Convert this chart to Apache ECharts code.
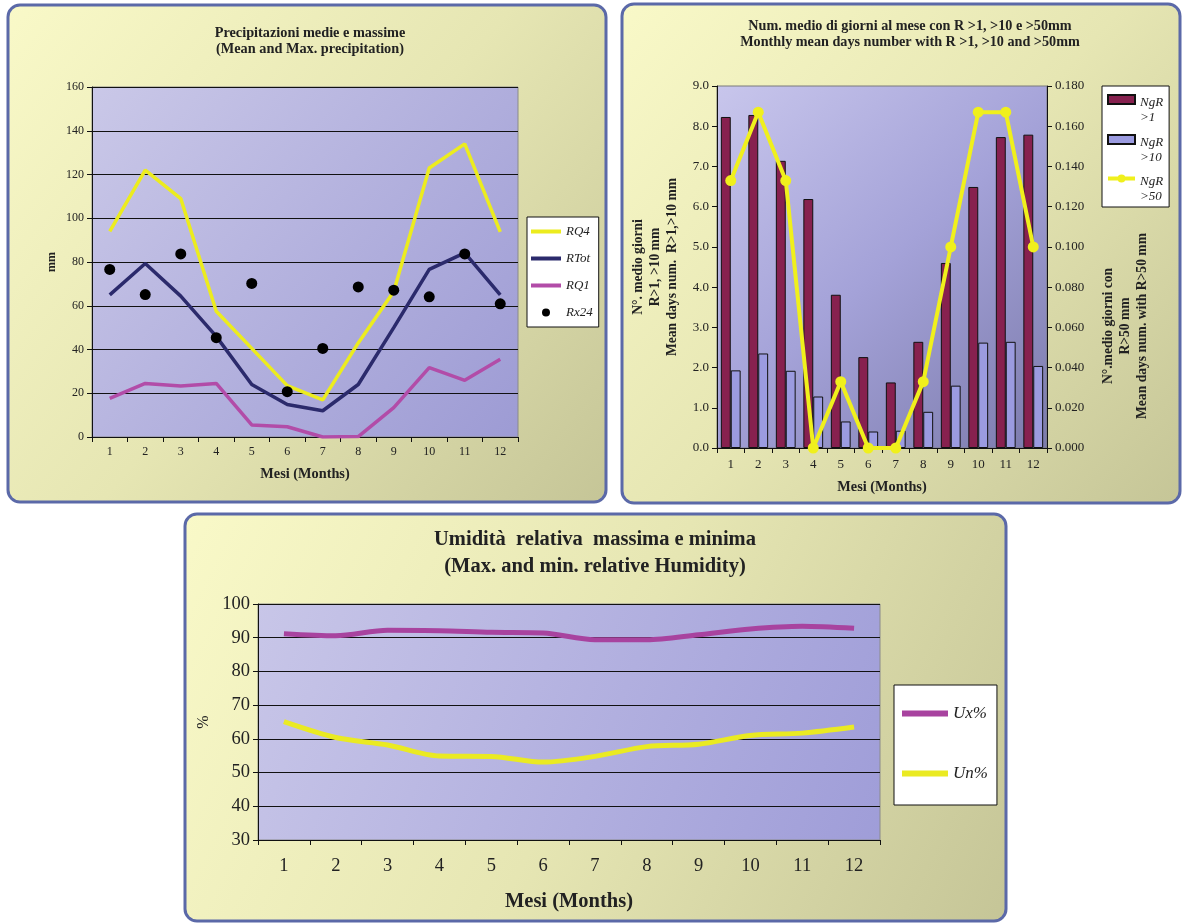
<!DOCTYPE html>
<html>
<head>
<meta charset="utf-8">
<script src="https://cdn.jsdelivr.net/npm/echarts@6/dist/echarts.min.js"></script>
<style>
html,body{margin:0;padding:0;background:#ffffff;}
#chart{width:1182px;height:924px;}
</style>
</head>
<body>
<div id="chart"></div>
<script>
// ---- data ----
const months = ['1','2','3','4','5','6','7','8','9','10','11','12'];
// Panel 1: precipitation (mm)
const rq4  = [94, 122, 109, 57.5, 40.5, 23.5, 17, 43, 66.5, 123, 134, 93.8];
const rtot = [65, 79.3, 64.4, 46, 24, 14.9, 12, 24, 50, 76.6, 84.2, 65];
const rq1  = [17.7, 24.5, 23.3, 24.5, 5.5, 4.7, 0, 0.2, 13.4, 31.7, 25.9, 35.5];
const rx24 = [76.6, 65.1, 83.7, 45.4, 70.2, 20.7, 40.5, 68.6, 67.1, 64.1, 83.7, 60.9];
// Panel 2: mean number of days
const ngr1  = [8.23, 8.28, 7.14, 6.19, 3.81, 2.26, 1.63, 2.64, 4.60, 6.49, 7.73, 7.79];
const ngr10 = [1.93, 2.35, 1.92, 1.28, 0.66, 0.41, 0.43, 0.90, 1.55, 2.62, 2.64, 2.04];
const ngr50 = [0.133, 0.167, 0.133, 0, 0.033, 0, 0, 0.033, 0.100, 0.167, 0.167, 0.100];
// Panel 3: relative humidity (%)
const ux = [91.2, 90.6, 92.2, 92.1, 91.6, 91.4, 89.4, 89.4, 90.9, 92.6, 93.4, 92.8];
const un = [65.1, 60.4, 58.2, 54.9, 54.8, 53.1, 54.8, 57.7, 58.4, 61.0, 61.7, 63.5];

// ---- styles ----
const SERIF = 'Liberation Serif';
const panelFill = {type:'linear',x:0,y:0,x2:1,y2:1,colorStops:[
  {offset:0,color:'#f9f9c8'},{offset:0.5,color:'#e6e6b3'},{offset:1,color:'#c5c597'}]};
function panelRect(x,y,w,h){
  return {type:'rect', z:-10, silent:true,
    shape:{x:x,y:y,width:w,height:h,r:12},
    style:{fill:panelFill, stroke:'#5b69a8', lineWidth:3}};
}
const plotBg1 = {type:'linear',x:0,y:0,x2:1,y2:1,colorStops:[{offset:0,color:'#cac8e8'},{offset:1,color:'#9d9bd4'}]};
const plotBg2 = {type:'linear',x:0,y:0,x2:1,y2:1,colorStops:[{offset:0,color:'#c8c6ec'},{offset:0.5,color:'#a4a2d8'},{offset:1,color:'#7c7bac'}]};
const plotBg3 = {type:'linear',x:0,y:0,x2:1,y2:1,colorStops:[{offset:0,color:'#c8c6e8'},{offset:1,color:'#9f9dd8'}]};

const axisLbl = (size)=>({fontFamily:SERIF,fontSize:size,color:'#222'});
const blackLine = {lineStyle:{color:'#111',width:1}};

// legend icon shapes (bounding points keep the box size)
const ICON_LINE1 = 'path://M0,4 H30 V8 H0 Z M0,0 L0.01,0 M30,12 L30.01,12';
const ICON_DOT1  = 'path://M11,6 a4,4 0 1,1 8,0 a4,4 0 1,1 -8,0 M0,0 L0.01,0 M30,12 L30.01,12';
const ICON_BAR2  = 'path://M0,0 H27 V9 H0 Z M0,30 L0.01,30';
const ICON_LINE2 = 'path://M0,2.5 H27 V6.5 H0 Z M9.5,4.5 a4,4 0 1,1 8,0 a4,4 0 1,1 -8,0 M0,0 L0.01,0 M0,30 L0.01,30';
const ICON_LINE3 = 'path://M0,3 H46 V9 H0 Z M0,0 L0.01,0 M46,12 L46.01,12';

const option = {
  animation:false,
  graphic:[
    panelRect(8,5,598,497),
    panelRect(622,4,558,499),
    panelRect(185,514,821,407)
  ],
  title:[
    {text:'Precipitazioni medie e massime\n(Mean and Max. precipitation)', left:305, top:20, textAlign:'center',
     textStyle:{fontFamily:SERIF,fontWeight:'bold',fontSize:14.3,lineHeight:16,color:'#222'}},
    {text:'Num. medio di giorni al mese con R >1, >10 e >50mm\nMonthly mean days number with R >1, >10 and >50mm', left:905, top:13, textAlign:'center',
     textStyle:{fontFamily:SERIF,fontWeight:'bold',fontSize:14.2,lineHeight:16,color:'#222'}},
    {text:'Umidità  relativa  massima e minima\n(Max. and min. relative Humidity)', left:590, top:521, textAlign:'center',
     textStyle:{fontFamily:SERIF,fontWeight:'bold',fontSize:20.5,lineHeight:27,color:'#222'}}
  ],
  legend:[
    {orient:'vertical', left:527, top:217,
     data:[{name:'RQ4',icon:ICON_LINE1},{name:'RTot',icon:ICON_LINE1},{name:'RQ1',icon:ICON_LINE1},{name:'Rx24',icon:ICON_DOT1}],
     backgroundColor:'#ffffff', borderColor:'#111', borderWidth:1, borderRadius:0,
     padding:[8,6,8,4], itemGap:14, itemWidth:30, itemHeight:12,
     textStyle:{fontFamily:SERIF,fontStyle:'italic',fontSize:13,color:'#222'}},
    {orient:'vertical', left:1102, top:86,
     data:[{name:'NgR >1',icon:ICON_BAR2},{name:'NgR >10',icon:ICON_BAR2},{name:'NgR >50',icon:ICON_LINE2}],
     formatter:(n)=>n.replace(' ','\n'),
     backgroundColor:'#ffffff', borderColor:'#111', borderWidth:1, borderRadius:0,
     padding:[8,6,3,5], itemGap:8, itemWidth:27, itemHeight:30,
     textStyle:{fontFamily:SERIF,fontStyle:'italic',fontSize:13,lineHeight:15,color:'#222'}},
    {orient:'vertical', left:894, top:685,
     data:[{name:'Ux%',icon:ICON_LINE3},{name:'Un%',icon:ICON_LINE3}],
     backgroundColor:'#ffffff', borderColor:'#111', borderWidth:1, borderRadius:0,
     padding:[20,9,23,8], itemGap:43, itemWidth:46, itemHeight:12,
     textStyle:{fontFamily:SERIF,fontStyle:'italic',fontSize:17,color:'#222'}}
  ],
  grid:[
    {left:92, top:87, width:426, height:350, show:true, backgroundColor:plotBg1, borderColor:'#8a8a8a', borderWidth:1},
    {left:717, top:86, width:330, height:362, show:true, backgroundColor:plotBg2, borderColor:'#7a7a7a', borderWidth:1},
    {left:258, top:604, width:622, height:236, show:true, backgroundColor:plotBg3, borderColor:'#8a8a8a', borderWidth:1}
  ],
  xAxis:[
    {gridIndex:0, type:'category', data:months, boundaryGap:true,
     axisLine:blackLine, axisTick:{show:true,length:5,lineStyle:{color:'#111'}},
     axisLabel:Object.assign({margin:9},axisLbl(12)),
     name:'Mesi (Months)', nameLocation:'middle', nameGap:30,
     nameTextStyle:{fontFamily:SERIF,fontWeight:'bold',fontSize:14.3,color:'#222'}},
    {gridIndex:1, type:'category', data:months, boundaryGap:true,
     axisLine:blackLine, axisTick:{show:true,length:5,lineStyle:{color:'#111'}},
     axisLabel:Object.assign({margin:10},axisLbl(13)),
     name:'Mesi (Months)', nameLocation:'middle', nameGap:32,
     nameTextStyle:{fontFamily:SERIF,fontWeight:'bold',fontSize:14.3,color:'#222'}},
    {gridIndex:2, type:'category', data:months, boundaryGap:true,
     axisLine:blackLine, axisTick:{show:true,length:5,lineStyle:{color:'#111'}},
     axisLabel:Object.assign({margin:17},axisLbl(18.5)),
     name:'Mesi (Months)', nameLocation:'middle', nameGap:51,
     nameTextStyle:{fontFamily:SERIF,fontWeight:'bold',fontSize:20.5,color:'#222'}}
  ],
  yAxis:[
    {gridIndex:0, type:'value', min:0, max:160, interval:20,
     axisLine:{show:true,lineStyle:{color:'#111',width:1}},
     axisTick:{show:true,length:5,lineStyle:{color:'#111'}},
     splitLine:{show:true,lineStyle:{color:'#111',width:1}},
     axisLabel:Object.assign({margin:8},axisLbl(12)),
     name:'mm', nameLocation:'middle', nameGap:34, nameRotate:90,
     nameTextStyle:{fontFamily:SERIF,fontWeight:'bold',fontSize:12,color:'#222'}},
    {gridIndex:1, type:'value', min:0, max:9, interval:1, position:'left',
     axisLine:{show:true,lineStyle:{color:'#111',width:1}},
     axisTick:{show:true,length:5,lineStyle:{color:'#111'}},
     splitLine:{show:false},
     axisLabel:Object.assign({margin:8,formatter:(v)=>v.toFixed(1)},axisLbl(13)),
     name:'N°. medio giorni\nR>1, >10 mm\nMean days num.  R>1,>10 mm', nameLocation:'middle', nameGap:36, nameRotate:90,
     nameTextStyle:{fontFamily:SERIF,fontWeight:'bold',fontSize:13.6,lineHeight:17,color:'#222'}},
    {gridIndex:1, type:'value', min:0, max:0.18, interval:0.02, position:'right',
     axisLine:{show:true,lineStyle:{color:'#111',width:1}},
     axisTick:{show:true,length:5,lineStyle:{color:'#111'}},
     splitLine:{show:false},
     axisLabel:Object.assign({margin:8,formatter:(v)=>v.toFixed(3)},axisLbl(13)),
     name:'N°.medio giorni con\nR>50 mm\nMean days num. with R>50 mm', nameLocation:'middle', nameGap:53, nameRotate:90,
     nameTextStyle:{fontFamily:SERIF,fontWeight:'bold',fontSize:13.6,lineHeight:17,color:'#222',padding:[0,118,0,0]}},
    {gridIndex:2, type:'value', min:30, max:100, interval:10,
     axisLine:{show:true,lineStyle:{color:'#111',width:1}},
     axisTick:{show:true,length:5,lineStyle:{color:'#111'}},
     splitLine:{show:true,lineStyle:{color:'#111',width:1}},
     axisLabel:Object.assign({margin:8},axisLbl(18.5)),
     name:'%', nameLocation:'middle', nameGap:41, nameRotate:90,
     nameTextStyle:{fontFamily:SERIF,fontSize:16,color:'#222'}}
  ],
  series:[
    {name:'RQ4', type:'line', xAxisIndex:0, yAxisIndex:0, data:rq4, symbol:'none',
     lineStyle:{color:'#ecec1e',width:3.5}, itemStyle:{color:'#ecec1e'}},
    {name:'RTot', type:'line', xAxisIndex:0, yAxisIndex:0, data:rtot, symbol:'none',
     lineStyle:{color:'#2b2a6c',width:3.5}, itemStyle:{color:'#2b2a6c'}},
    {name:'RQ1', type:'line', xAxisIndex:0, yAxisIndex:0, data:rq1, symbol:'none',
     lineStyle:{color:'#b24ca8',width:3.5}, itemStyle:{color:'#b24ca8'}},
    {name:'Rx24', type:'scatter', xAxisIndex:0, yAxisIndex:0, data:rx24, symbol:'circle', symbolSize:11,
     itemStyle:{color:'#000000', opacity:1}, z:5},

    {name:'NgR >1', type:'bar', xAxisIndex:1, yAxisIndex:1, data:ngr1, barGap:'0%', barCategoryGap:'28%',
     itemStyle:{color:'#87214f', borderColor:'#111', borderWidth:1}},
    {name:'NgR >10', type:'bar', xAxisIndex:1, yAxisIndex:1, data:ngr10, barGap:'0%', barCategoryGap:'28%',
     itemStyle:{color:'#9b9be0', borderColor:'#111', borderWidth:1}},
    {name:'NgR >50', type:'line', xAxisIndex:1, yAxisIndex:2, data:ngr50, symbol:'circle', symbolSize:11,
     lineStyle:{color:'#f0f01c',width:4}, itemStyle:{color:'#f0f01c'}, z:5},

    {name:'Ux%', type:'line', xAxisIndex:2, yAxisIndex:3, data:ux, symbol:'none', smooth:0.3,
     lineStyle:{color:'#a8439f',width:5}, itemStyle:{color:'#a8439f'}},
    {name:'Un%', type:'line', xAxisIndex:2, yAxisIndex:3, data:un, symbol:'none', smooth:0.3,
     lineStyle:{color:'#eaea22',width:5}, itemStyle:{color:'#eaea22'}}
  ]
};

const chart = echarts.init(document.getElementById('chart'), null, {renderer:'canvas'});
chart.setOption(option);
</script>
</body>
</html>
